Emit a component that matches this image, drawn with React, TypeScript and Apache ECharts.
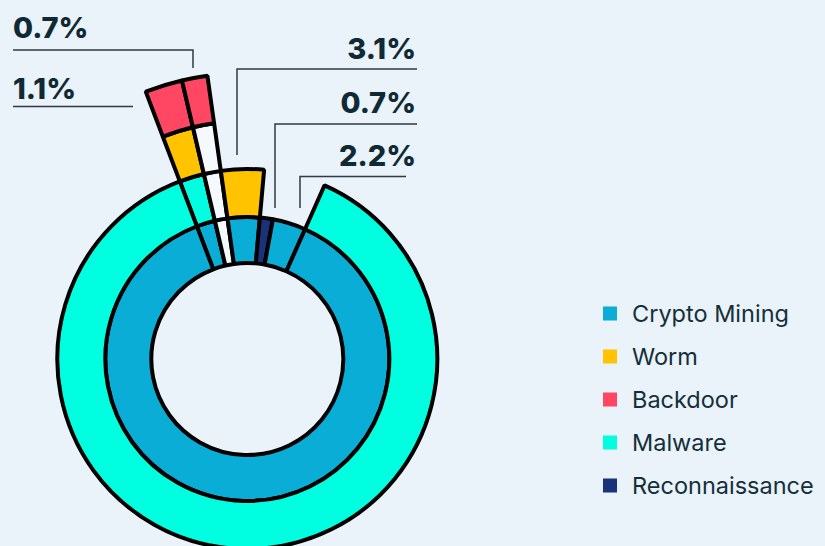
import React, { useEffect, useRef } from "react";
import * as echarts from "echarts";

// ---- data ----
const CATEGORIES = ["Crypto Mining", "Worm", "Backdoor", "Malware", "Reconnaissance"];
const CATEGORY_COLORS = ["#0AADD5", "#FFC300", "#FF4663", "#00FFE0", "#19327A"];
const UNKNOWN_NAME = "Unknown";
const UNKNOWN_COLOR = "#F5F9FE";

// each chain = one wedge, stages from the inner ring outwards
const CHAIN_STAGES: string[][] = [
  ["Crypto Mining", "Malware", "Worm", "Backdoor"],
  [UNKNOWN_NAME, UNKNOWN_NAME, UNKNOWN_NAME, "Backdoor"],
  ["Crypto Mining", "Worm"],
  ["Reconnaissance"],
  ["Crypto Mining"],
  ["Crypto Mining", "Malware"],
];
// share of the circle for each wedge (%)
const CHAIN_SHARES = [2.11, 1.44, 3.64, 1.47, 3.78, 87.56];

const LABEL_TEXTS = ["0.7%", "1.1%", "3.1%", "0.7%", "2.2%"];

const colorOf = (name: string) => {
  const i = CATEGORIES.indexOf(name);
  return i >= 0 ? CATEGORY_COLORS[i] : UNKNOWN_COLOR;
};

function buildNode(stages: string[], idx: number, value: number): any {
  const name = stages[idx];
  const node: any = { name, itemStyle: { color: colorOf(name) } };
  if (idx === stages.length - 1) node.value = value;
  else node.children = [buildNode(stages, idx + 1, value)];
  return node;
}

export default function App() {
  const ref = useRef<HTMLDivElement>(null);
  useEffect(() => {
    if (!ref.current) return;
    const chart = echarts.init(ref.current, null, { renderer: "svg" });
    const data = CHAIN_STAGES.map((s, i) => buildNode(s, 0, CHAIN_SHARES[i]));

    const textColor = "#102A33";
    const lineColor = "#2F3B40";
    const labelFont = { fontFamily: "Inter", fontWeight: 800 as any, fontSize: 29, fill: textColor };

    // label anchors: [x, yCenter, align]
    const labelPos: [number, number, string][] = [
      [13, 27.5, "left"],
      [13, 88, "left"],
      [416, 48.5, "right"],
      [416, 102, "right"],
      [416, 155, "right"],
    ];
    const leaders: number[][][] = [
      [[13, 50], [193, 50], [193, 68]],
      [[13, 106.5], [133, 106.5]],
      [[417, 69], [237, 69], [237, 155]],
      [[417, 124], [275, 124], [275, 208]],
      [[406, 176.5], [300, 176.5], [300, 208]],
    ];

    const graphics: any[] = [];
    LABEL_TEXTS.forEach((t, i) => {
      const [x, y, align] = labelPos[i];
      graphics.push({
        type: "text",
        x,
        y,
        style: { ...labelFont, text: t, align, verticalAlign: "middle" },
      });
      graphics.push({
        type: "polyline",
        shape: { points: leaders[i] },
        style: { stroke: lineColor, lineWidth: 1.5, fill: null },
      });
    });
    // legend
    CATEGORIES.forEach((c, i) => {
      const cy = 313.5 + i * 43;
      graphics.push({
        type: "rect",
        shape: { x: 603, y: cy - 7, width: 14, height: 14 },
        style: { fill: CATEGORY_COLORS[i] },
      });
      graphics.push({
        type: "text",
        x: 632,
        y: cy,
        style: {
          text: c,
          fontFamily: "Inter",
          fontSize: 23.5,
          fill: "#142F39",
          align: "left",
          verticalAlign: "middle",
        },
      });
    });

    chart.setOption({
      animation: false,
      backgroundColor: "#EAF2FA",
      graphic: graphics,
      series: [
        {
          type: "sunburst",
          center: [247.3, 359],
          radius: [96, 286],
          startAngle: 110.8,
          clockwise: true,
          sort: (a: any, b: any) => a.dataIndex - b.dataIndex,
          nodeClick: false,
          emphasis: { focus: "none" },
          label: { show: false },
          itemStyle: { borderColor: "#000", borderWidth: 4 },
          levels: [
            {},
            { r0: 96, r: 142 },
            { r0: 142, r: 190 },
            { r0: 190, r: 238 },
            { r0: 238, r: 286 },
          ],
          data,
        },
      ],
    });
    return () => chart.dispose();
  }, []);
  return (
    <div
      ref={ref}
      style={{ position: "absolute", left: 0, top: 0, width: 825, height: 546 }}
    />
  );
}
